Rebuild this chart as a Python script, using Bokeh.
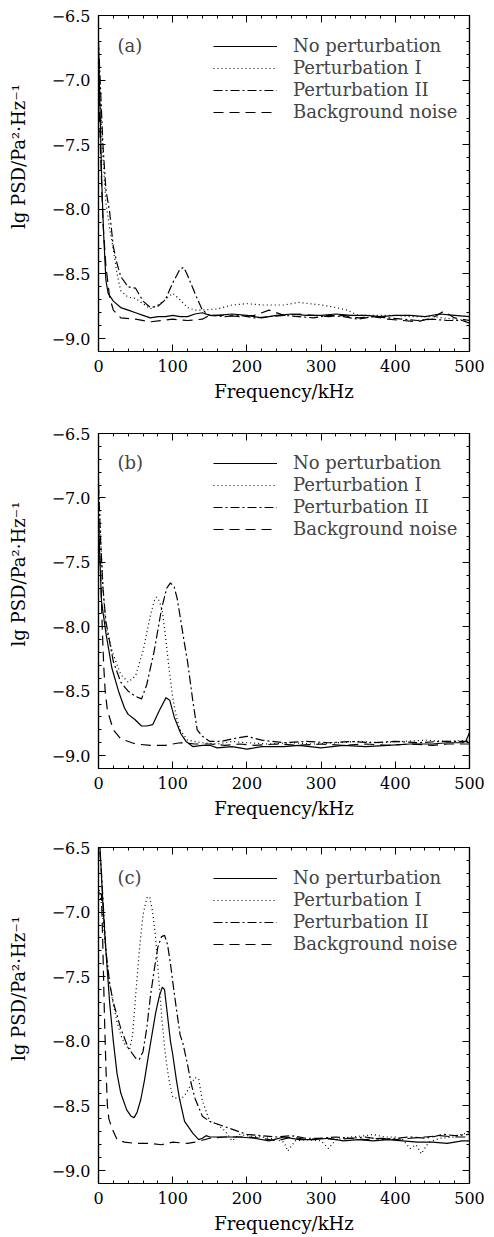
import numpy as np
from bokeh.plotting import figure
from bokeh.layouts import column
from bokeh.models import (Range1d, FixedTicker, LinearAxis, Legend, LegendItem,
                          Label, CustomJSTickFormatter)
from bokeh.embed import file_html
from bokeh.resources import INLINE

FONT = "DejaVu Serif"

series_names = ["No perturbation", "Perturbation I", "Perturbation II", "Background noise"]
x_ticks = [0, 100, 200, 300, 400, 500]
y_ticks = [-9.0, -8.5, -8.0, -7.5, -7.0, -6.5]

# ---- panel (a) ----
a_none = [(0,-6.75),(2,-7.2),(4,-7.7),(5,-7.9),(7,-8.2),(10,-8.55),(13,-8.65),(20,-8.71),(30,-8.76),(40,-8.78),(50,-8.80),(60,-8.82),(70,-8.84),(80,-8.83),(90,-8.83),(100,-8.82),(110,-8.83),(120,-8.83),(130,-8.81),(140,-8.80),(150,-8.82),(160,-8.82),(180,-8.81),(200,-8.82),(220,-8.84),(240,-8.82),(260,-8.81),(280,-8.82),(300,-8.82),(320,-8.81),(340,-8.82),(360,-8.82),(380,-8.83),(400,-8.82),(420,-8.82),(440,-8.83),(460,-8.81),(480,-8.82),(500,-8.83)]
a_p1 = [(0,-6.75),(3,-7.2),(6,-7.6),(10,-7.95),(15,-8.15),(20,-8.31),(25,-8.5),(30,-8.63),(40,-8.68),(50,-8.69),(60,-8.73),(70,-8.77),(80,-8.74),(90,-8.70),(100,-8.65),(110,-8.70),(120,-8.76),(130,-8.78),(140,-8.78),(160,-8.77),(180,-8.74),(200,-8.73),(220,-8.74),(250,-8.74),(270,-8.72),(300,-8.74),(320,-8.76),(335,-8.78),(350,-8.82),(370,-8.82),(400,-8.82),(420,-8.83),(450,-8.83),(465,-8.84),(480,-8.85),(500,-8.86)]
a_p2 = [(0,-6.7),(3,-7.1),(6,-7.5),(10,-7.85),(15,-8.02),(20,-8.29),(25,-8.42),(30,-8.52),(40,-8.60),(50,-8.61),(60,-8.71),(70,-8.76),(80,-8.75),(90,-8.70),(100,-8.57),(110,-8.46),(115,-8.45),(120,-8.51),(130,-8.65),(140,-8.78),(150,-8.82),(170,-8.83),(190,-8.82),(210,-8.84),(230,-8.83),(250,-8.82),(270,-8.83),(290,-8.84),(310,-8.82),(330,-8.83),(350,-8.85),(370,-8.83),(390,-8.84),(410,-8.85),(430,-8.86),(450,-8.85),(470,-8.86),(490,-8.86),(500,-8.88)]
a_bg = [(0,-7.0),(3,-7.6),(6,-8.1),(10,-8.44),(15,-8.68),(20,-8.78),(30,-8.84),(50,-8.85),(70,-8.87),(85,-8.86),(100,-8.85),(120,-8.86),(140,-8.85),(150,-8.82),(170,-8.82),(190,-8.83),(210,-8.82),(230,-8.78),(250,-8.82),(270,-8.81),(290,-8.82),(310,-8.83),(330,-8.82),(350,-8.84),(370,-8.83),(390,-8.85),(410,-8.86),(430,-8.87),(450,-8.84),(465,-8.79),(480,-8.84),(500,-8.86)]

# ---- panel (b) ----
b_none = [(0,-7.15),(2,-7.5),(4,-7.8),(10,-8.05),(18,-8.32),(27,-8.50),(35,-8.63),(40,-8.68),(49,-8.72),(58,-8.77),(65,-8.77),(73,-8.76),(82,-8.65),(91,-8.55),(96,-8.57),(102,-8.70),(111,-8.83),(118,-8.89),(127,-8.93),(140,-8.92),(150,-8.92),(160,-8.94),(180,-8.93),(200,-8.95),(220,-8.93),(250,-8.93),(270,-8.92),(300,-8.94),(330,-8.92),(360,-8.93),(390,-8.92),(420,-8.91),(450,-8.91),(470,-8.90),(490,-8.90),(495,-8.89),(500,-8.82)]
b_p1 = [(0,-6.85),(3,-7.3),(6,-7.7),(10,-8.01),(20,-8.22),(30,-8.37),(40,-8.43),(50,-8.38),(60,-8.19),(70,-7.91),(75,-7.80),(78,-7.77),(82,-7.80),(86,-7.88),(90,-8.06),(95,-8.32),(100,-8.55),(105,-8.70),(110,-8.80),(120,-8.88),(140,-8.90),(160,-8.91),(180,-8.89),(200,-8.90),(230,-8.91),(260,-8.90),(290,-8.91),(320,-8.90),(350,-8.89),(380,-8.90),(410,-8.89),(440,-8.88),(470,-8.89),(500,-8.88)]
b_p2 = [(0,-6.9),(3,-7.35),(6,-7.7),(10,-7.96),(20,-8.27),(30,-8.43),(40,-8.50),(50,-8.54),(58,-8.56),(65,-8.45),(75,-8.19),(85,-7.86),(92,-7.70),(97,-7.66),(102,-7.69),(106,-7.78),(110,-7.92),(115,-8.10),(120,-8.27),(127,-8.57),(133,-8.80),(140,-8.85),(150,-8.89),(165,-8.89),(180,-8.87),(200,-8.85),(220,-8.88),(250,-8.90),(280,-8.89),(310,-8.90),(340,-8.89),(370,-8.90),(400,-8.89),(430,-8.90),(460,-8.89),(500,-8.89)]
b_bg = [(0,-7.2),(3,-7.6),(5,-8.0),(7,-8.3),(9,-8.5),(12,-8.65),(20,-8.80),(30,-8.87),(50,-8.91),(70,-8.92),(90,-8.92),(110,-8.90),(130,-8.91),(150,-8.91),(170,-8.92),(190,-8.91),(210,-8.92),(240,-8.91),(270,-8.92),(300,-8.91),(330,-8.92),(360,-8.91),(390,-8.92),(420,-8.91),(450,-8.92),(470,-8.91),(500,-8.91)]

# ---- panel (c) ----
c_none = [(0,-6.3),(3,-6.6),(6,-6.95),(10,-7.3),(15,-7.7),(20,-8.0),(25,-8.25),(30,-8.40),(38,-8.53),(44,-8.58),(48,-8.59),(52,-8.55),(57,-8.45),(62,-8.30),(67,-8.12),(72,-7.95),(77,-7.78),(82,-7.65),(86,-7.58),(89,-7.6),(93,-7.8),(97,-8.0),(100,-8.10),(105,-8.3),(109,-8.44),(116,-8.62),(127,-8.71),(135,-8.76),(140,-8.75),(145,-8.73),(150,-8.74),(170,-8.74),(190,-8.74),(210,-8.75),(230,-8.77),(250,-8.74),(270,-8.76),(290,-8.76),(310,-8.75),(330,-8.77),(350,-8.76),(370,-8.77),(390,-8.76),(410,-8.77),(430,-8.78),(450,-8.78),(470,-8.79),(490,-8.77),(500,-8.77)]
c_p1 = [(0,-6.8),(3,-6.9),(6,-7.05),(10,-7.3),(15,-7.55),(20,-7.72),(25,-7.85),(30,-7.95),(36,-8.03),(42,-8.06),(46,-7.95),(50,-7.65),(55,-7.3),(60,-7.02),(65,-6.89),(69,-6.88),(73,-7.0),(77,-7.2),(81,-7.5),(85,-7.8),(90,-8.1),(95,-8.3),(100,-8.43),(110,-8.45),(116,-8.42),(122,-8.36),(130,-8.28),(135,-8.29),(140,-8.46),(150,-8.62),(160,-8.64),(170,-8.69),(180,-8.77),(190,-8.72),(200,-8.73),(220,-8.74),(240,-8.76),(250,-8.78),(255,-8.85),(265,-8.77),(280,-8.76),(300,-8.77),(310,-8.83),(320,-8.76),(340,-8.74),(360,-8.73),(370,-8.72),(385,-8.74),(400,-8.74),(410,-8.76),(420,-8.83),(428,-8.80),(435,-8.87),(445,-8.78),(460,-8.75),(480,-8.74),(500,-8.70)]
c_p2 = [(0,-6.4),(4,-6.7),(7,-7.0),(10,-7.3),(15,-7.55),(20,-7.7),(30,-7.9),(40,-8.05),(50,-8.13),(55,-8.14),(60,-8.08),(65,-7.9),(70,-7.65),(75,-7.45),(80,-7.27),(85,-7.19),(89,-7.18),(93,-7.25),(97,-7.4),(101,-7.58),(105,-7.75),(110,-7.95),(114,-8.02),(120,-8.18),(125,-8.33),(130,-8.44),(140,-8.58),(150,-8.62),(160,-8.64),(175,-8.67),(190,-8.70),(200,-8.72),(220,-8.73),(240,-8.74),(260,-8.73),(280,-8.75),(300,-8.75),(320,-8.74),(340,-8.75),(360,-8.74),(380,-8.76),(400,-8.75),(420,-8.74),(440,-8.75),(450,-8.74),(465,-8.72),(480,-8.73),(500,-8.72)]
c_bg = [(0,-6.85),(4,-6.86),(6,-7.3),(8,-7.8),(10,-8.2),(12,-8.5),(14,-8.6),(18,-8.67),(25,-8.76),(35,-8.78),(50,-8.79),(70,-8.79),(85,-8.80),(100,-8.78),(120,-8.79),(130,-8.78),(150,-8.75),(170,-8.74),(200,-8.74),(220,-8.75),(240,-8.77),(260,-8.74),(280,-8.76),(300,-8.75),(320,-8.76),(340,-8.75),(360,-8.76),(380,-8.75),(400,-8.76),(420,-8.75),(440,-8.74),(460,-8.73),(480,-8.74),(500,-8.74)]

DASHES = ["solid", "1 3", "9 3 2 3", "10 6"]

x_minor = list(np.arange(0, 501, 20))
y_minor = list(np.round(np.arange(-9.1, -6.49, 0.1), 2))

ytick_fmt = CustomJSTickFormatter(code="return tick.toFixed(1).replace('-', '\u2212');")
xtick_fmt = CustomJSTickFormatter(code="return tick.toFixed(0);")


def style_axis(ax, show_labels):
    ax.axis_line_color = "black"
    ax.axis_line_width = 1.2
    ax.major_tick_in = 7
    ax.major_tick_out = 0
    ax.minor_tick_in = 3
    ax.minor_tick_out = 0
    ax.major_tick_line_color = "black"
    ax.minor_tick_line_color = "black"
    ax.major_label_text_font = FONT
    ax.major_label_text_font_size = "16px"
    ax.major_label_text_color = "black"
    ax.major_label_standoff = 8
    if not show_labels:
        ax.formatter = CustomJSTickFormatter(code="return '';")
        ax.major_label_standoff = 0


def make_panel(tag, data, height, left, bottom):
    p = figure(width=494, height=height, x_range=Range1d(0, 500), y_range=Range1d(-9.1, -6.5),
               output_backend="svg", toolbar_location=None,
               min_border_left=left, min_border_right=494 - left - 374,
               min_border_top=15, min_border_bottom=bottom)
    p.grid.visible = False
    p.outline_line_color = "black"
    p.outline_line_width = 1.2
    p.background_fill_color = "white"
    p.border_fill_color = "white"

    xt = FixedTicker(ticks=x_ticks, minor_ticks=x_minor)
    yt = FixedTicker(ticks=y_ticks, minor_ticks=y_minor)
    p.xaxis.ticker = xt
    p.yaxis.ticker = yt
    p.xaxis.formatter = xtick_fmt
    p.yaxis.formatter = ytick_fmt
    for ax in p.xaxis + p.yaxis:
        style_axis(ax, True)
    p.xaxis.axis_label = "Frequency/kHz"
    p.yaxis.axis_label = "\u2003\u2003\u2003lg PSD/Pa\u00b2\u00b7Hz\u207b\u00b9"
    for ax in p.xaxis + p.yaxis:
        ax.axis_label_text_font = FONT
        ax.axis_label_text_font_size = "18px"
        ax.axis_label_text_font_style = "normal"
        ax.axis_label_text_color = "black"
    p.xaxis.axis_label_standoff = 6
    p.yaxis.axis_label_standoff = 20

    top = LinearAxis(ticker=FixedTicker(ticks=x_ticks, minor_ticks=x_minor))
    right = LinearAxis(ticker=FixedTicker(ticks=y_ticks, minor_ticks=y_minor))
    style_axis(top, False)
    style_axis(right, False)
    p.add_layout(top, "above")
    p.add_layout(right, "right")

    items = []
    for (name, pts, dash) in zip(series_names, data, DASHES):
        xs = [q[0] for q in pts]
        ys = [q[1] for q in pts]
        r = p.line(xs, ys, line_color="black", line_width=1.2, line_dash=dash)
        items.append(LegendItem(label=name, renderers=[r]))

    leg = Legend(items=items, location=(115, 229), padding=0, margin=0,
                 glyph_width=64, glyph_height=20, label_height=20, spacing=1,
                 label_standoff=16, border_line_color=None, background_fill_alpha=0,
                 label_text_font=FONT, label_text_font_size="18px")
    p.add_layout(leg)

    p.add_layout(Label(x=19, y=306, x_units="screen", y_units="screen", text=tag,
                       text_font=FONT, text_font_size="18px", text_baseline="middle",
                       text_align="left"))
    return p


pa = make_panel("(a)", [a_none, a_p1, a_p2, a_bg], 418, 98, 67)
pb = make_panel("(b)", [b_none, b_p1, b_p2, b_bg], 414, 97, 64)
pc = make_panel("(c)", [c_none, c_p1, c_p2, c_bg], 405, 95, 54)

layout = column(pa, pb, pc, spacing=0)
open("out.html", "w").write(file_html(layout, INLINE))
